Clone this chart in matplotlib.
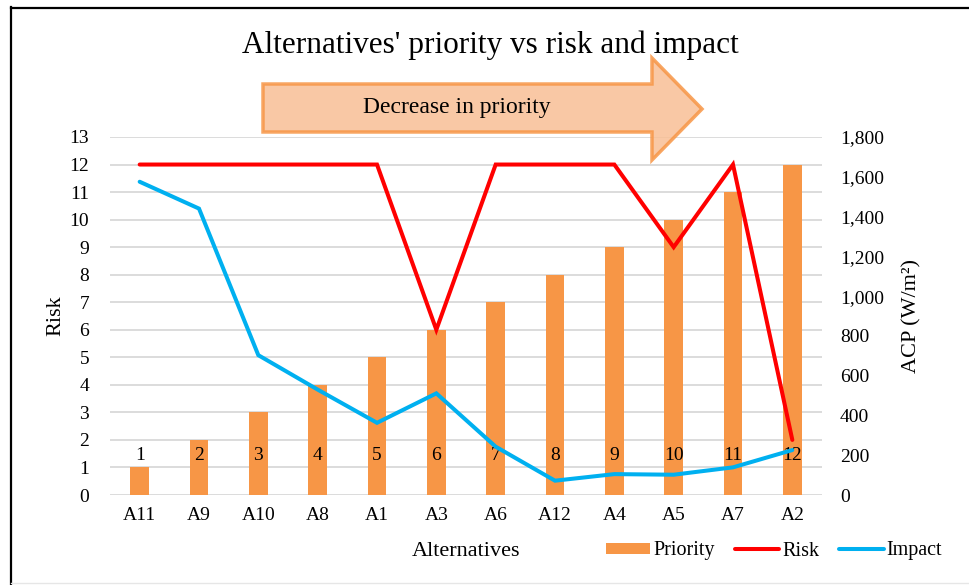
import matplotlib
matplotlib.use("Agg")
import matplotlib.pyplot as plt
from matplotlib.patches import Polygon, Patch
from matplotlib.lines import Line2D
from matplotlib.ticker import FuncFormatter, MultipleLocator

plt.rcParams['font.family'] = ['Liberation Serif', 'DejaVu Serif']

alternatives = ["A11", "A9", "A10", "A8", "A1", "A3", "A6", "A12", "A4", "A5", "A7", "A2"]
priority = [1, 2, 3, 4, 5, 6, 7, 8, 9, 10, 11, 12]
risk = [12, 12, 12, 12, 12, 6, 12, 12, 12, 9, 12, 2]
impact = [1575, 1440, 703, 530, 363, 511, 243, 72, 105, 102, 139, 226]

W, H = 970, 585
fig = plt.figure(figsize=(W / 100, H / 100), dpi=100)
fig.patch.set_facecolor('white')

def fx(px):
    return px / W

def fy(py):
    return 1 - py / H

ax = fig.add_axes([fx(110), fy(495), (822 - 110) / W, (495 - 137) / H])
ax2 = ax.twinx()

x = list(range(len(alternatives)))
orange = '#F79646'
ax.bar(x, priority, width=0.31, color=orange, zorder=2)
ax.plot(x, risk, color='#FF0000', lw=2.9, zorder=4, solid_capstyle='round', solid_joinstyle='miter')
for xi, p in zip(x, priority):
    ax.text(xi, 1.45, str(p), ha='center', va='center', fontsize=14, zorder=5)

ax2.plot(x, impact, color='#00B0F0', lw=2.9, zorder=4, solid_capstyle='round', solid_joinstyle='miter')

ax.set_xlim(-0.5, len(alternatives) - 0.5)
ax.set_ylim(0, 13)
ax2.set_ylim(0, 1800)
ax.yaxis.set_major_locator(MultipleLocator(1))
ax2.yaxis.set_major_locator(MultipleLocator(200))
ax2.yaxis.set_major_formatter(FuncFormatter(lambda v, p: f"{int(v):,}"))
ax.set_xticks(x)
ax.set_xticklabels(alternatives)

ax.yaxis.grid(True, color='#D9D9D9', lw=1.3, zorder=0)
ax.set_axisbelow(True)
for a in (ax, ax2):
    for s in a.spines.values():
        s.set_visible(False)
    a.tick_params(length=0, labelsize=14)
ax.tick_params(axis='y', pad=15)
ax.tick_params(axis='x', pad=9)
ax2.tick_params(axis='y', pad=13)

ax.set_ylabel("Risk", fontsize=16)
ax.yaxis.set_label_coords(-0.063, 0.5)
ax2.set_ylabel("ACP (W/m²)", fontsize=16)
ax2.yaxis.set_label_coords(1.113, 0.5)

fig.text(fx(466), fy(551), "Alternatives", ha='center', va='center', fontsize=16)
fig.text(fx(490), fy(45), "Alternatives' priority vs risk and impact", ha='center', va='center', fontsize=22.5)

# Arrow
pts = [(263, 84), (652, 84), (652, 58), (702, 109), (652, 160), (652, 132), (263, 132)]
arrow = Polygon([(fx(a), fy(b)) for a, b in pts], closed=True, transform=fig.transFigure,
                facecolor='#F8BF95', alpha=0.85, edgecolor=orange, lw=2.5, joinstyle='miter', zorder=10)
fig.patches.append(arrow)
fig.text(fx(457), fy(107), "Decrease in priority", ha='center', va='center', fontsize=17, zorder=11)

# Border
fig.add_artist(Line2D([fx(11), fx(11)], [fy(7), fy(585)], color='black', lw=1.6, transform=fig.transFigure))
fig.add_artist(Line2D([fx(11), fx(975)], [fy(7.5), fy(7.5)], color='black', lw=1.6, transform=fig.transFigure))
fig.add_artist(Line2D([fx(11), fx(970)], [fy(583), fy(583)], color='#E6E6E6', lw=1.0, transform=fig.transFigure))

handles = [Patch(facecolor=orange, edgecolor='none'),
           Line2D([], [], color='#FF0000', lw=2.9, solid_capstyle='round'),
           Line2D([], [], color='#00B0F0', lw=2.9, solid_capstyle='round')]
fig.legend(handles, ["Priority", "Risk", "Impact"], loc='center', bbox_to_anchor=(fx(774), fy(551)),
           ncol=3, frameon=False, fontsize=14.5, handlelength=2.2, handleheight=0.5,
           handletextpad=0.15, columnspacing=1.0)

fig.savefig("out.png", dpi=100, facecolor='white')
